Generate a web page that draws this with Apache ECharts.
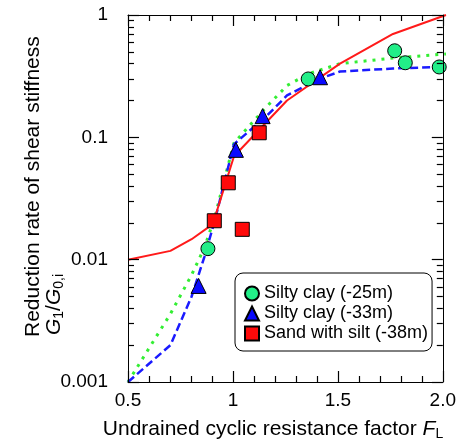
<!DOCTYPE html>
<html>
<head>
<meta charset="utf-8">
<style>
  html, body { margin: 0; padding: 0; background: #fff; }
  #wrap { position: relative; width: 459px; height: 444px; }
  #main, #frame { position: absolute; left: 0; top: 0; width: 459px; height: 444px; }
  #frame { pointer-events: none; }
</style>
<script src="https://cdn.jsdelivr.net/npm/echarts@6/dist/echarts.min.js"></script>
</head>
<body>
<div id="wrap">
  <div id="main"></div>
  <div id="frame"></div>
</div>
<script>
var chart = echarts.init(document.getElementById('main'));
var frame = echarts.init(document.getElementById('frame'));

// tick labels (the log axis prints 0.001 ... 1 by itself)
var xTickValues = [0.5, 1, 1.5, 2];
var xTickLabels = ['0.5', '1', '1.5', '2.0'];

// measured points [FL, G1/G0,i]
var clay25 = [[0.877, 0.0123], [1.35, 0.30], [1.758, 0.51], [1.808, 0.407], [1.968, 0.376]];
var clay33 = [[0.833, 0.0061], [1.009, 0.079], [1.135, 0.149], [1.406, 0.31]];
var sand38 = [[0.907, 0.0208], [0.973, 0.0425], [1.039, 0.0177], [1.119, 0.109]];

// fitted curves
var curveClay25 = [[0.5, 0.001], [0.7, 0.0036], [0.8, 0.0075], [0.86, 0.0125], [0.91, 0.0224],
    [0.95, 0.042], [1.0, 0.09], [1.15, 0.175], [1.25, 0.265], [1.35, 0.33], [1.5, 0.40],
    [1.75, 0.445], [2.0, 0.48]];
var curveClay33 = [[0.5, 0.001], [0.7, 0.002], [0.8, 0.005], [0.86, 0.0105], [0.91, 0.021],
    [0.95, 0.04], [1.0, 0.088], [1.15, 0.147], [1.25, 0.22], [1.4, 0.3], [1.5, 0.345],
    [1.75, 0.365], [2.0, 0.378]];
var curveSand38 = [[0.5, 0.01], [0.7, 0.0118], [0.8, 0.0147], [0.9, 0.0195], [0.95, 0.037],
    [1.0, 0.07], [1.25, 0.2], [1.5, 0.4], [1.75, 0.7], [2.0, 1.0]];

var font = 'Liberation Sans, Arial, sans-serif';
var gridBox = { left: 128, right: 13, top: 15, bottom: 62 };

// axes with ticks and labels (drawn in the frame layer)
function xAx(pos, showLabel) {
    return {
        type: 'value', position: pos, min: 0.5, max: 2.0, interval: 0.5,
        axisLine: { show: true, onZero: false, lineStyle: { color: '#000', width: 1 } },
        axisTick: { show: true, inside: true, length: 11, lineStyle: { color: '#000', width: 1.2 } },
        minorTick: { show: true, splitNumber: 5, length: 6, lineStyle: { color: '#000', width: 1.2 } },
        axisLabel: {
            show: showLabel, margin: 9, color: '#000', fontSize: 19, fontFamily: font,
            formatter: function (v) { var i = xTickValues.indexOf(v); return i < 0 ? '' : xTickLabels[i]; }
        },
        splitLine: { show: false }
    };
}
function yAx(pos, showLabel) {
    return {
        type: 'log', position: pos, min: 0.001, max: 1,
        axisLine: { show: true, onZero: false, lineStyle: { color: '#000', width: 1 } },
        axisTick: { show: true, inside: true, length: 11, lineStyle: { color: '#000', width: 1.2 } },
        minorTick: { show: true, splitNumber: 9, length: 6, lineStyle: { color: '#000', width: 1.2 } },
        axisLabel: { show: showLabel, margin: 20, color: '#000', fontSize: 19, fontFamily: font },
        splitLine: { show: false }
    };
}

// same scales, nothing drawn (used by the data layer)
function bareAxis(type, min, max) {
    return {
        type: type, min: min, max: max,
        axisLine: { show: false }, axisTick: { show: false }, minorTick: { show: false },
        axisLabel: { show: false }, splitLine: { show: false }
    };
}

frame.setOption({
    animation: false,
    backgroundColor: 'transparent',
    grid: gridBox,
    xAxis: [xAx('bottom', true), xAx('top', false)],
    yAxis: [yAx('left', true), yAx('right', false)],
    series: []
});

var option = {
    animation: false,
    backgroundColor: '#fff',
    textStyle: { fontFamily: font },
    grid: gridBox,
    xAxis: bareAxis('value', 0.5, 2.0),
    yAxis: bareAxis('log', 0.001, 1),
    legend: {
        data: ['Silty clay (-25m)', 'Silty clay (-33m)', 'Sand with silt (-38m)'],
        orient: 'vertical',
        left: 235, top: 273,
        padding: [11, 4, 8, 9],
        itemWidth: 14, itemHeight: 14, itemGap: 1, itemTextGap: 8,
        borderColor: '#000', borderWidth: 1, borderRadius: 8,
        textStyle: { fontSize: 18, color: '#000', fontFamily: font, lineHeight: 19 }
    },
    graphic: [
        {
            type: 'text', x: 33, y: 337, rotation: Math.PI / 2,
            style: { text: 'Reduction rate of shear stiffness', fontSize: 21, fontFamily: font, fill: '#000', align: 'left', verticalAlign: 'middle' }
        },
        {
            type: 'text', x: 54, y: 335, rotation: Math.PI / 2,
            style: {
                text: '{i|G}{s|1}{n|/}{i|G}{s|0,i}', fontSize: 21, fontFamily: font, fill: '#000', align: 'left', verticalAlign: 'middle',
                rich: {
                    i: { fontSize: 21, fontStyle: 'italic', fontFamily: font, lineHeight: 24 },
                    n: { fontSize: 21, fontFamily: font, lineHeight: 24 },
                    s: { fontSize: 14, fontFamily: font, lineHeight: 14, verticalAlign: 'bottom' }
                }
            }
        },
        {
            type: 'text', x: 273, y: 429,
            style: {
                text: '{n|Undrained cyclic resistance factor }{i|F}{s|L}', fontSize: 21, fontFamily: font, fill: '#000', align: 'center', verticalAlign: 'middle',
                rich: {
                    i: { fontSize: 21, fontStyle: 'italic', fontFamily: font, lineHeight: 24 },
                    n: { fontSize: 21, fontFamily: font, lineHeight: 24 },
                    s: { fontSize: 14, fontFamily: font, lineHeight: 14, verticalAlign: 'bottom' }
                }
            }
        }
    ],
    series: [
        {
            name: 'curve-25', type: 'line', data: curveClay25, showSymbol: false, silent: true,
            lineStyle: { color: '#33ee33', width: 3, type: [3, 6] }, z: 3
        },
        {
            name: 'curve-33', type: 'line', data: curveClay33, showSymbol: false, silent: true,
            lineStyle: { color: '#1a1aff', width: 2.5, type: [8, 4] }, z: 3
        },
        {
            name: 'curve-38', type: 'line', data: curveSand38, showSymbol: false, silent: true,
            lineStyle: { color: '#ff1a1a', width: 2 }, z: 4
        },
        {
            name: 'Silty clay (-25m)', type: 'scatter', data: clay25, symbol: 'circle', symbolSize: 14,
            itemStyle: { color: '#22ee88', borderColor: '#000', borderWidth: 1, opacity: 1 }, z: 5
        },
        {
            name: 'Silty clay (-33m)', type: 'scatter', data: clay33, symbol: 'triangle', symbolSize: 15,
            itemStyle: { color: '#0a0aff', borderColor: '#000', borderWidth: 1, opacity: 1 }, z: 5
        },
        {
            name: 'Sand with silt (-38m)', type: 'scatter', data: sand38, symbol: 'rect', symbolSize: 14,
            itemStyle: { color: '#ff0a0a', borderColor: '#000', borderWidth: 1, opacity: 1 }, z: 5
        }
    ]
};

chart.setOption(option);
</script>
</body>
</html>
